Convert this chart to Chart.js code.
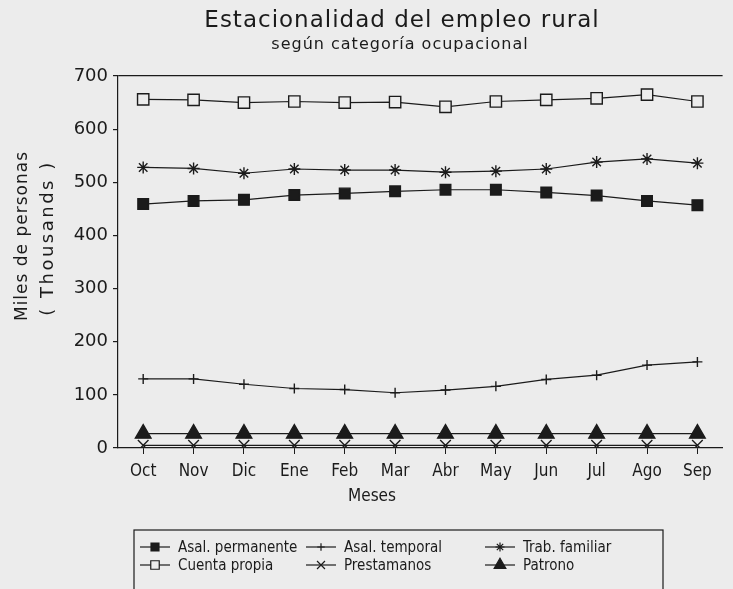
<!DOCTYPE html>
<html lang="es">
<head>
    <meta charset="UTF-8">
    <title>Estacionalidad del empleo rural</title>
    <script src="https://cdn.jsdelivr.net/npm/chart.js"></script>
    <style>
        body { margin: 0; background: #ececec; }
        canvas { display: block; }
    </style>
</head>
<body>
<canvas id="graph" width="733" height="589"></canvas>
<script>
    // valores (miles de personas)
    let meses = ['Oct', 'Nov', 'Dic', 'Ene', 'Feb', 'Mar', 'Abr', 'May', 'Jun', 'Jul', 'Ago', 'Sep'];
    let asal_permanente = [459, 465, 467, 476, 479, 483, 486, 486, 481, 475, 465, 457];
    let asal_temporal = [130, 130, 120, 112, 110, 104, 109, 116, 129, 137, 156, 162];
    let trab_familiar = [528, 526, 517, 525, 523, 523, 519, 521, 525, 538, 544, 536];
    let cuenta_propia = [656, 655, 650, 652, 650, 651, 642, 652, 655, 658, 665, 652];
    let prestamanos = [5, 5, 5, 5, 5, 5, 5, 5, 5, 5, 5, 5];
    let patrono = [27, 27, 27, 27, 27, 27, 27, 27, 27, 27, 27, 27];
    let y_ticks = [0, 100, 200, 300, 400, 500, 600, 700];

    const ink = '#1b1b1b';
    const paper = '#ececec';
    const narrow = '"DejaVu Sans Condensed", "Liberation Sans Narrow", "DejaVu Sans"';

    function serie(label, data, style, radius, filled) {
        return {
            label: label,
            data: data,
            borderColor: ink,
            borderWidth: 1.2,
            fill: false,
            tension: 0,
            pointStyle: style,
            pointRadius: radius,
            pointHoverRadius: radius,
            pointBorderColor: ink,
            pointBorderWidth: 1.4,
            pointBackgroundColor: filled ? ink : paper,
        };
    }

    // títulos, leyenda en recuadro
    const textos = {
        id: 'textos',
        afterDraw(chart) {
            const ctx = chart.ctx;
            ctx.save();
            ctx.fillStyle = ink;
            ctx.textBaseline = 'middle';
            ctx.textAlign = 'center';

            ctx.letterSpacing = '1px';
            ctx.font = '23px "DejaVu Sans"';
            ctx.fillText('Estacionalidad del empleo rural', 402, 21);
            ctx.font = '16px "DejaVu Sans"';
            ctx.fillText('según categoría ocupacional', 400, 45);

            ctx.letterSpacing = '0px';
            ctx.font = '17px ' + narrow;
            ctx.fillText('Meses', 372, 497);

            ctx.save();
            ctx.translate(23, 236);
            ctx.rotate(-Math.PI / 2);
            ctx.letterSpacing = '1px';
            ctx.font = '17px "DejaVu Sans"';
            ctx.fillText('Miles de personas', 0, 0);
            ctx.restore();

            ctx.save();
            ctx.translate(48, 238);
            ctx.rotate(-Math.PI / 2);
            ctx.letterSpacing = '2.5px';
            ctx.font = '18px "DejaVu Sans"';
            ctx.fillText('( Thousands )', 0, 0);
            ctx.restore();

            // recuadro de la leyenda
            ctx.strokeStyle = ink;
            ctx.lineWidth = 1.2;
            ctx.strokeRect(134, 530, 529, 80);

            let col_x = [140, 306, 485];
            let fila_y = [547, 565];
            ctx.textAlign = 'left';
            ctx.letterSpacing = '0px';
            ctx.font = '15px ' + narrow;
            chart.data.datasets.forEach(function (ds, i) {
                let x = col_x[i % 3];
                let y = fila_y[Math.floor(i / 3)];
                ctx.strokeStyle = ink;
                ctx.beginPath();
                ctx.moveTo(x, y);
                ctx.lineTo(x + 30, y);
                ctx.lineWidth = 1.2;
                ctx.stroke();
                ctx.fillStyle = ds.pointBackgroundColor;
                Chart.helpers.drawPoint(ctx, {
                    pointStyle: ds.pointStyle,
                    radius: ds.pointRadius * 0.75,
                    rotation: 0,
                    borderWidth: 1.2,
                }, x + 15, y);
                ctx.fillStyle = ink;
                ctx.fillText(ds.label, x + 38, y + 1);
            });
            ctx.restore();
        },
    };

    new Chart(document.getElementById('graph'), {
        type: 'line',
        data: {
            labels: meses,
            datasets: [
                serie('Asal. permanente', asal_permanente, 'rect', 7.5, true),
                serie('Asal. temporal', asal_temporal, 'cross', 5, false),
                serie('Trab. familiar', trab_familiar, 'star', 6, false),
                serie('Cuenta propia', cuenta_propia, 'rect', 8, false),
                serie('Prestamanos', prestamanos, 'crossRot', 7.5, false),
                serie('Patrono', patrono, 'triangle', 9, true),
            ],
        },
        options: {
            responsive: false,
            animation: false,
            layout: {
                padding: { top: 76, right: 6, left: 0, bottom: 0 },
            },
            plugins: {
                legend: { display: false },
                title: { display: false },
                tooltip: { enabled: false },
            },
            scales: {
                x: {
                    offset: true,
                    afterFit: function (scale) { scale.height = 141; },
                    grid: {
                        offset: false,
                        drawOnChartArea: false,
                        tickLength: 6,
                        tickColor: ink,
                    },
                    border: { color: ink, width: 1.2 },
                    ticks: {
                        color: ink,
                        padding: 7,
                        maxRotation: 0,
                        font: { family: narrow, size: 17 },
                    },
                },
                y: {
                    min: y_ticks[0],
                    max: y_ticks[y_ticks.length - 1],
                    afterFit: function (scale) { scale.width = 118; },
                    afterBuildTicks: function (scale) {
                        scale.ticks = y_ticks.map(v => ({ value: v }));
                    },
                    grid: {
                        color: c => (c.tick && c.tick.value === 700 ? ink : 'transparent'),
                        lineWidth: 1.2,
                        tickLength: 5,
                        tickColor: ink,
                    },
                    border: { color: ink, width: 1.2 },
                    ticks: {
                        color: ink,
                        padding: 5,
                        font: { family: 'DejaVu Sans', size: 18 },
                    },
                },
            },
        },
        plugins: [textos],
    });
</script>
</body>
</html>
